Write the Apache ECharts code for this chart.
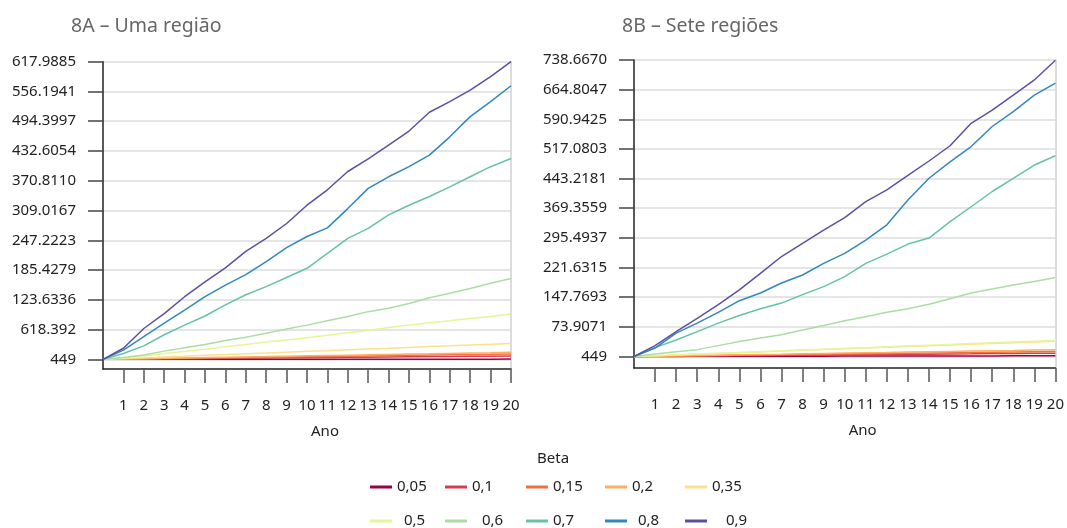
<!DOCTYPE html>
<html><head><meta charset="utf-8">
<script src="https://cdn.jsdelivr.net/npm/echarts@6/dist/echarts.min.js"></script>
<style>html,body{margin:0;padding:0;background:#fff}#c{width:1067px;height:528px}</style>
</head><body><div id="c"></div>
<script>
// ---- data ----
const years = [0,1,2,3,4,5,6,7,8,9,10,11,12,13,14,15,16,17,18,19,20];
const betaNames = ['0,05','0,1','0,15','0,2','0,35','0,5','0,6','0,7','0,8','0,9'];
const yearTickLabels = [1,2,3,4,5,6,7,8,9,10,11,12,13,14,15,16,17,18,19,20];

const ticksA = ['449','618.392','123.6336','185.4279','247.2223','309.0167','370.8110','432.6054','494.3997','556.1941','617.9885'];
const ticksB = ['449','73.9071','147.7693','221.6315','295.4937','369.3559','443.2181','517.0803','590.9425','664.8047','738.6670'];
const tickBase = 0.0449;
const tickStepA = 61.79436;
const tickStepB = 73.86221;

// 8A – Uma região
const a005 = [0,0,0,0,0,0.1,0.1,0.1,0.1,0.2,0.2,0.2,0.2,0.3,0.3,0.3,0.3,0.4,0.4,0.4,0.5];
const a01  = [0,0.3,0.7,1,1.4,1.7,2.1,2.4,2.8,3.1,3.5,3.8,4.2,4.5,4.9,5.2,5.6,5.9,6.3,6.6,7];
const a015 = [0,0.5,1.1,1.6,2.2,2.7,3.3,3.8,4.4,4.9,5.5,6,6.6,7.1,7.7,8.2,8.8,9.3,9.9,10.4,11];
const a02  = [0,0.7,1.4,2.1,2.8,3.6,4.3,5,5.7,6.5,7.2,7.9,8.6,9.4,10.1,10.8,11.5,12.3,13,13.7,14.5];
const a035 = [0,1.5,3.2,5,6.5,8.2,9.8,11.5,13,14.8,16.5,18,19.8,21.4,23,24.8,26.5,28,29.8,31.4,33];
const a05  = [0,3,7,12,16,21,26,31,36,40,45,50,55,60,66,71,76,80,85,89,94];
const a06  = [0,4,9,17,24,31,39,46,54,63,71,80,89,99,106,116,128,137,147,158,168];
const a07  = [0,12,28,51,71,90,113,134,151,170,189,220,251,272,300,320,338,358,379,400,417];
const a08  = [0,19,47,75,102,130,154,176,203,232,255,273,313,355,379,400,424,462,504,535,568];
const a09  = [0,23,64,95,130,161,190,224,251,282,320,352,390,416,445,474,513,535,559,587,618];

// 8B – Sete regiões
const b005 = [0,0.1,0.2,0.3,0.3,0.4,0.5,0.6,0.7,0.8,0.9,0.9,1,1.1,1.2,1.3,1.4,1.4,1.5,1.6,1.7];
const b01  = [0,0.4,0.8,1.2,1.7,2.1,2.5,2.9,3.3,3.7,4.2,4.6,5,5.4,5.8,6.2,6.6,7.1,7.5,7.9,8.3];
const b015 = [0,0.6,1.2,1.9,2.5,3.1,3.7,4.3,5,5.6,6.2,6.8,7.4,8.1,8.7,9.3,9.9,10.5,11.2,11.8,12.4];
const b02  = [0,0.8,1.7,2.5,3.3,4.2,5,5.8,6.7,7.5,8.4,9.2,10,10.9,11.7,12.5,13.4,14.2,15,15.9,16.7];
const b035 = [0,1.9,3.8,5.7,7.6,9.5,11.4,13.3,15.2,17.1,19,20.9,22.8,24.7,26.6,28.5,30.4,32.3,34.2,36.1,38];
const b05  = [0,2,4,6,8,10,12,14,16,18,20,22,24,26,28,30,32,34,36,38,40];
const b06  = [0,6,12,17,27,37,46,54,66,77,89,99,110,119,130,144,158,168,178,187,197];
const b07  = [0,22,41,62,83,102,119,133,154,174,199,232,255,280,295,336,373,411,444,477,500];
const b08  = [0,21,58,83,110,139,158,183,203,232,257,290,328,390,444,485,523,573,610,651,681];
const b09  = [0,27,62,95,129,166,207,249,282,315,346,386,415,451,487,525,581,614,651,689,738];

const seriesA = [a005,a01,a015,a02,a035,a05,a06,a07,a08,a09];
const seriesB = [b005,b01,b015,b02,b035,b05,b06,b07,b08,b09];

// ---- styles ----
const colors = ['#9e0142','#d53e4f','#f46d43','#fdae61','#fee08b','#e6f598','#abdda4','#66c2a5','#3288bd','#5e4fa2'];
const FONT = 'Noto Sans';

const tickValsA = ticksA.map((_, i) => tickBase + i * tickStepA);
const tickValsB = ticksB.map((_, i) => tickBase + i * tickStepB);

function yAxisMain(grid, tickVals, labels, step, min, max) {
  return {
    gridIndex: grid, type: 'value', min: min, max: max,
    axisLine: {show: true, onZero: false, lineStyle: {color: '#222', width: 1.5}},
    axisTick: {show: true, length: 15, customValues: tickVals, lineStyle: {color: '#444', width: 1.5}},
    axisLabel: {customValues: tickVals, margin: 27, fontSize: 15, color: '#222', fontFamily: FONT,
      formatter: v => labels[Math.round((v - tickBase) / step)] || ''},
    splitLine: {show: true, lineStyle: {color: '#dcdcdc', width: 1.5}}
  };
}
function yAxisBorder(grid, min, max) {
  return {gridIndex: grid, type: 'value', position: 'right', min: min, max: max,
    axisLine: {show: true, onZero: false, lineStyle: {color: '#d0d0d0', width: 1.5}},
    axisTick: {show: false}, axisLabel: {show: false}, splitLine: {show: false}};
}
function xAxisMain(grid) {
  return {
    gridIndex: grid, type: 'value', min: 0, max: 20,
    axisLine: {onZero: false, lineStyle: {color: '#222', width: 1.5}},
    axisTick: {customValues: yearTickLabels, length: 14, lineStyle: {color: '#555', width: 1.5}},
    axisLabel: {customValues: yearTickLabels, margin: 29, fontSize: 15, color: '#222', fontFamily: FONT},
    splitLine: {show: false},
    name: 'Ano', nameLocation: 'middle', nameGap: 55,
    nameTextStyle: {fontSize: 15, color: '#222', fontFamily: FONT, padding: [0, 0, 0, 36]}
  };
}

const minA = tickBase - 0.326 * tickStepA, maxA = tickValsA[10];
const minB = tickBase - 0.39 * tickStepB, maxB = tickValsB[10];

const series = [];
[seriesA, seriesB].forEach((set, g) => {
  set.forEach((vals, i) => {
    series.push({
      name: betaNames[i], type: 'line', xAxisIndex: g, yAxisIndex: g * 2,
      data: years.map((y, k) => [y, vals[k]]),
      showSymbol: false, symbol: 'none', animation: false,
      lineStyle: {width: 1.5, color: colors[i]}, itemStyle: {color: colors[i]}
    });
  });
});

const legendW = [48, 54, 52, 53, 40];
const row2Pad = [7, 10, 0, 6, 14];
function legendRow(names, top, pads) {
  return {
    left: 365, top: top, orient: 'horizontal', itemGap: 0, itemWidth: 22, itemHeight: 3,
    icon: 'rect', selectedMode: false,
    textStyle: {fontSize: 15, color: '#222', fontFamily: FONT, lineHeight: 18},
    data: names.map((n, i) => ({
      name: n,
      textStyle: {width: legendW[i] - (pads ? pads[i] : 0), padding: [0, 0, 0, pads ? pads[i] : 0]}
    }))
  };
}

const option = {
  animation: false,
  color: colors,
  title: [
    {text: '8A – Uma região', left: 66, top: 11, textStyle: {fontSize: 19.5, fontWeight: 'normal', color: '#666', fontFamily: FONT}},
    {text: '8B – Sete regiões', left: 617, top: 11, textStyle: {fontSize: 19.5, fontWeight: 'normal', color: '#666', fontFamily: FONT}},
    {text: 'Beta', left: 532, top: 446, textStyle: {fontSize: 15, fontWeight: 'normal', color: '#222', fontFamily: FONT}}
  ],
  grid: [
    {left: 103, top: 61.7, width: 408, bottom: 159},
    {left: 634, top: 60, width: 425, bottom: 160}
  ],
  xAxis: [xAxisMain(0), xAxisMain(1)],
  yAxis: [
    yAxisMain(0, tickValsA, ticksA, tickStepA, minA, maxA), yAxisBorder(0, minA, maxA),
    yAxisMain(1, tickValsB, ticksB, tickStepB, minB, maxB), yAxisBorder(1, minB, maxB)
  ],
  legend: [
    legendRow(betaNames.slice(0, 5), 473, null),
    legendRow(betaNames.slice(5), 507, row2Pad)
  ],
  series: series
};
const chart = echarts.init(document.getElementById('c'), null, {renderer: 'canvas'});
chart.setOption(option);
</script></body></html>
